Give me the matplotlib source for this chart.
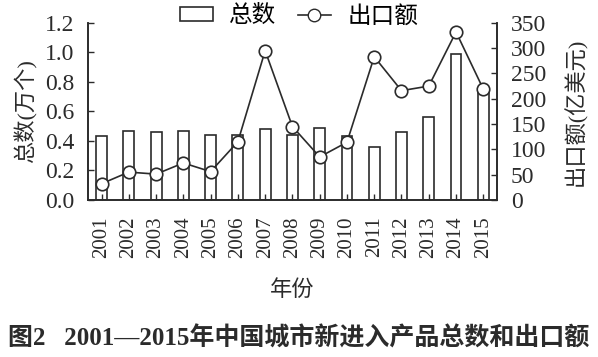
import numpy as np
import matplotlib.pyplot as plt
from matplotlib.patches import Patch
from matplotlib.lines import Line2D

# data
years = ["2001", "2002", "2003", "2004", "2005", "2006", "2007", "2008",
         "2009", "2010", "2011", "2012", "2013", "2014", "2015"]
total = [0.43, 0.47, 0.46, 0.47, 0.44, 0.44, 0.48, 0.44,
         0.49, 0.43, 0.36, 0.46, 0.56, 0.99, 0.75]          # 万个
export = [32, 55, 51, 73, 56, 115, 295, 145,
          85, 114, 283, 216, 225, 332, 219]                 # 亿美元

serif_cjk = ['Liberation Serif', 'Noto Sans CJK SC', 'DejaVu Sans']
plt.rcParams['font.family'] = serif_cjk
plt.rcParams['axes.unicode_minus'] = False

ink = '#2b2b2b'

fig = plt.figure(figsize=(5.98, 3.57), dpi=100)
ax = fig.add_axes([0.147, 0.440, 0.684, 0.496])
ax2 = ax.twinx()

x = np.arange(len(years))
ax.bar(x, total, width=0.4, facecolor='white', edgecolor=ink, linewidth=1.2)
ax2.plot(x, export, color=ink, linewidth=1.2, marker='o', markersize=9,
         markerfacecolor='white', markeredgecolor=ink, markeredgewidth=1.2)

ax.set_xlim(-0.5, len(years) - 0.5)
ax.set_ylim(0, 1.2)
ax.set_yticks(np.arange(0, 1.21, 0.2))
ax.set_yticklabels([f"{v:.1f}" for v in np.arange(0, 1.21, 0.2)])
ax2.set_ylim(0, 350)
ax2.set_yticks(np.arange(0, 351, 50))

ax.set_xticks(x)
ax.set_xticklabels(years, rotation=90)

for a in (ax, ax2):
    a.spines['top'].set_visible(False)
    for s in a.spines.values():
        s.set_color(ink)
        s.set_linewidth(1.2)
    a.tick_params(direction='in', length=4, width=1.0, color=ink,
                  labelsize=17, labelcolor=ink)
ax.tick_params(axis='y', pad=10)
ax2.tick_params(axis='y', pad=10)
ax.tick_params(axis='x', labelsize=15, pad=12)

ax.set_ylabel("总数(万个)", fontsize=16, color=ink, labelpad=5)
ax2.set_ylabel("出口额(亿美元)", fontsize=16, color=ink, rotation=90, labelpad=13)
ax.set_xlabel("年份", fontsize=16, color=ink, labelpad=16)

handles = [Patch(facecolor='white', edgecolor=ink, linewidth=1.2),
           Line2D([], [], color=ink, linewidth=1.2, marker='o', markersize=9,
                  markerfacecolor='white', markeredgecolor=ink)]
fig.legend(handles, ["总数", "出口额"], loc='upper center',
           bbox_to_anchor=(0.5, 1.045), ncol=2, frameon=False, fontsize=17,
           handlelength=1.4, handleheight=0.5, columnspacing=0.9,
           handletextpad=0.7)

fig.text(0.5, 0.053, "图2   2001—2015年中国城市新进入产品总数和出口额",
         ha='center', va='center', fontsize=18, fontweight='bold', color=ink)

fig.savefig("out.png", dpi=100)
